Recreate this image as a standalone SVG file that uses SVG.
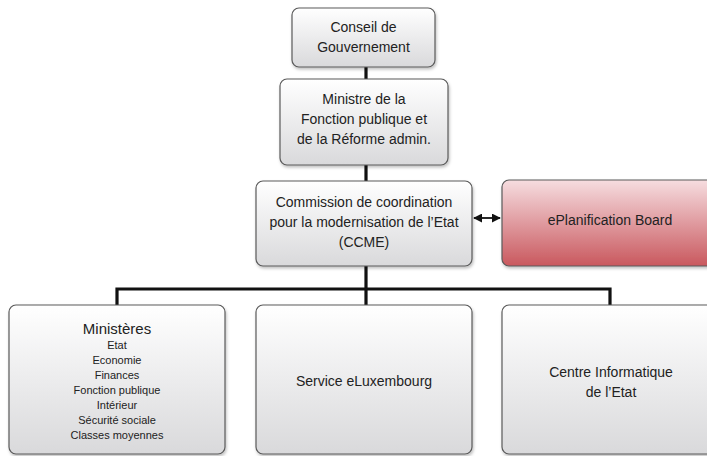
<svg xmlns="http://www.w3.org/2000/svg" width="707" height="456" viewBox="0 0 707 456">
<defs>
<linearGradient id="gGray" x1="0" y1="0" x2="0" y2="1">
<stop offset="0" stop-color="#ffffff"/>
<stop offset="1" stop-color="#d9d9db"/>
</linearGradient>
<linearGradient id="gRed" x1="0" y1="0" x2="0" y2="1">
<stop offset="0" stop-color="#f6dde0"/>
<stop offset="1" stop-color="#c9585e"/>
</linearGradient>
<filter id="sh" x="-10%" y="-10%" width="120%" height="130%">
<feDropShadow dx="1" dy="2" stdDeviation="1.5" flood-color="#000" flood-opacity="0.25"/>
</filter>
<marker id="ah" viewBox="0 0 10 10" refX="9" refY="5" markerWidth="5" markerHeight="5" orient="auto-start-reverse">
<path d="M0,0 L10,5 L0,10 z" fill="#111"/>
</marker>
</defs>
<style>
.box{fill:url(#gGray);stroke:#5a5a5a;stroke-width:1.2;filter:url(#sh)}
.red{fill:url(#gRed);stroke:#5a5a5a;stroke-width:1.2;filter:url(#sh)}
text{font-family:"Liberation Sans",Arial,sans-serif;fill:#222;text-anchor:middle}
.t{font-size:14px}
.h{font-size:15px}
.s{font-size:11px}
.ln{stroke:#111;stroke-width:3.2;fill:none}
</style>
<g id="connectors">
<line class="ln" x1="366" y1="67" x2="366" y2="80"/>
<line class="ln" x1="366" y1="165" x2="366" y2="181"/>
<line class="ln" x1="366" y1="266" x2="366" y2="305"/>
<polyline class="ln" points="117,305 117,289 610,289 610,305"/>
<line x1="474" y1="218" x2="500" y2="218" stroke="#111" stroke-width="1.8" marker-start="url(#ah)" marker-end="url(#ah)"/>
</g>
<g id="conseil">
<rect class="box" x="292" y="8" width="143" height="59" rx="7"/>
<text class="t" x="363.5" y="32">Conseil de</text>
<text class="t" x="363.5" y="52">Gouvernement</text>
</g>
<g id="ministre">
<rect class="box" x="280" y="79" width="168" height="86" rx="7"/>
<text class="t" x="364" y="104">Ministre de la</text>
<text class="t" x="364" y="124">Fonction publique et</text>
<text class="t" x="364" y="144">de la Réforme admin.</text>
</g>
<g id="ccme">
<rect class="box" x="256" y="181" width="216" height="85" rx="7"/>
<text class="t" x="364" y="207">Commission de coordination</text>
<text class="t" x="364" y="227">pour la modernisation de l’Etat</text>
<text class="t" x="364" y="247">(CCME)</text>
</g>
<g id="eplanification">
<rect class="red" x="502" y="180" width="218" height="86" rx="7"/>
<text class="t" x="610" y="225">ePlanification Board</text>
</g>
<g id="ministeres">
<rect class="box" x="9" y="305" width="216" height="149" rx="7"/>
<text class="h" x="117" y="334">Ministères</text>
<text class="s" x="117" y="349">Etat</text>
<text class="s" x="117" y="364">Economie</text>
<text class="s" x="117" y="379">Finances</text>
<text class="s" x="117" y="394">Fonction publique</text>
<text class="s" x="117" y="409">Intérieur</text>
<text class="s" x="117" y="424">Sécurité sociale</text>
<text class="s" x="117" y="439">Classes moyennes</text>
</g>
<g id="eluxembourg">
<rect class="box" x="256" y="305" width="216" height="149" rx="7"/>
<text class="t" x="364" y="386">Service eLuxembourg</text>
</g>
<g id="cie">
<rect class="box" x="502" y="305" width="218" height="149" rx="7"/>
<text class="t" x="611" y="377">Centre Informatique</text>
<text class="t" x="611" y="397">de l’Etat</text>
</g>
</svg>
